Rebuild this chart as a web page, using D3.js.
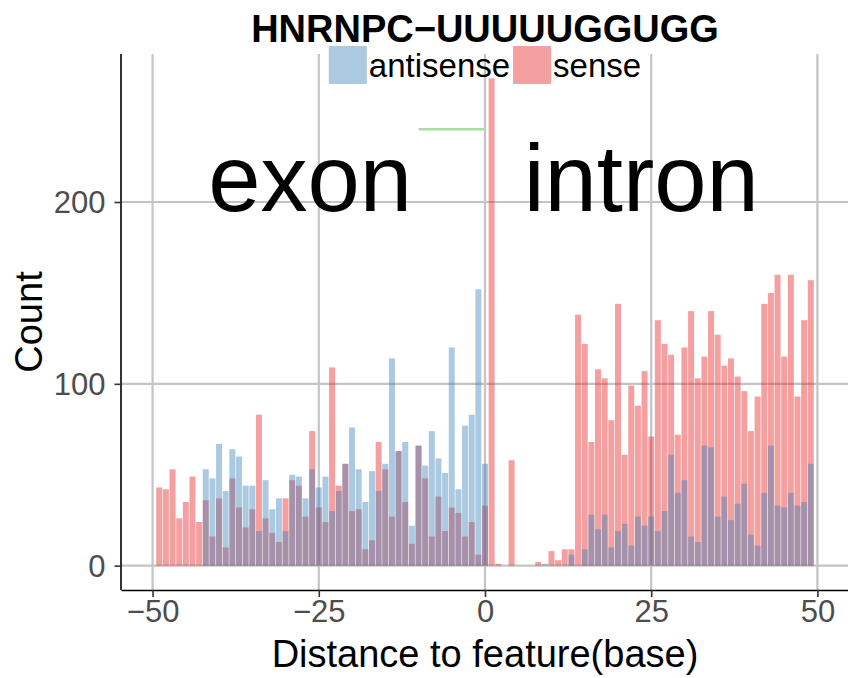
<!DOCTYPE html>
<html><head><meta charset="utf-8">
<script src="https://cdn.jsdelivr.net/npm/d3@7"></script>
<style>
html,body{margin:0;padding:0;background:#fff;overflow:hidden}
svg{display:block;font-family:"Liberation Sans",Arial,Helvetica,sans-serif}
</style>
</head><body>
<svg id="chart" width="848" height="678"></svg>
<script>
// ---------------- data ----------------
const chartTitle = "HNRNPC\u2212UUUUUGGUGG";
const positions = d3.range(-49, 50); // bar categories (distance, base)
const antisense = [
  0, 0, 0, 0, 0, 0, 0, 53, 48, 67,          // -49..-40
  41, 64, 60, 44, 44, 19, 47, 31, 37, 19,   // -39..-30
  50, 49, 37, 53, 43, 49, 30, 41, 56, 76,   // -29..-20
  53, 35, 52, 41, 56, 114, 63, 68, 22, 66,  // -19..-10
  55, 74, 59, 51, 120, 42, 77, 83, 152, 56, // -9..0
  0, 0, 0, 0, 0, 0, 0, 0, 1, 0,             // 1..10
  0, 0, 6, 0, 9, 28, 20, 28, 10, 19,        // 11..20
  23, 11, 27, 22, 27, 19, 30, 61, 40, 47,   // 21..30
  16, 13, 66, 65, 27, 38, 25, 34, 45, 17,   // 31..40
  11, 40, 66, 33, 32, 40, 33, 35, 56        // 41..49
];
const sense = [
  43, 42, 53, 26, 35, 49, 24, 36, 16, 37,   // -49..-40
  10, 48, 32, 21, 31, 83, 26, 18, 13, 37,   // -39..-30
  47, 44, 27, 74, 32, 24, 109, 44, 56, 30,  // -29..-20
  31, 9, 14, 68, 53, 27, 63, 35, 12, 66,    // -19..-10
  48, 16, 38, 19, 32, 29, 16, 24, 6, 33,    // -9..0
  268, 1, 0, 58, 0, 0, 0, 2, 0, 8,          // 1..10
  3, 9, 9, 138, 122, 68, 108, 103, 80, 144, // 11..20
  61, 99, 88, 107, 71, 135, 122, 116, 72, 120, // 21..30
  140, 103, 115, 140, 127, 110, 114, 104, 96, 74, // 31..40
  93, 144, 150, 160, 115, 160, 93, 135, 157 // 41..49
];
const seriesNames = ["antisense", "sense"];
const seriesColors = ["#377EB8", "#E41A1C"];
const xTicks = [-50, -25, 0, 25, 50];
const yTicks = [0, 100, 200];
const regionLabels = ["exon", "intron"];
const regionLabelX = [-26.3, 23.5];
const regionLabelY = [195, 195];
const segmentX = [-10, 0];
const segmentY = [240, 240];
const xTitle = "Distance to feature(base)";
const yTitle = "Count";

// ---------------- layout ----------------
const svg = d3.select("#chart");
const panel = {left: 121, right: 849, top: 54, bottom: 590};
const alpha = 0.42;
const fontAxisText = 31, fontAxisTitle = 38, fontTitle = 38, fontLegend = 33, fontRegion = 94;

const x = d3.scaleLinear().domain([-54.75, 54.75]).range([panel.left, panel.right]);
const yMax = d3.max(sense.concat(antisense));
const yPad = yMax * 0.05;
const y = d3.scaleLinear().domain([-yPad, yMax + yPad]).range([panel.bottom, panel.top]);
const barW = 0.9;

const clip = svg.append("defs").append("clipPath").attr("id", "pc")
  .append("rect").attr("x", panel.left).attr("y", panel.top)
  .attr("width", panel.right - panel.left).attr("height", panel.bottom - panel.top);

const gPanel = svg.append("g").attr("clip-path", "url(#pc)");

// grid
gPanel.append("g").selectAll("line.gx").data(xTicks).join("line")
  .attr("x1", d => x(d)).attr("x2", d => x(d))
  .attr("y1", panel.top).attr("y2", panel.bottom)
  .attr("stroke", "#c4c4c4").attr("stroke-width", 2.2);
gPanel.append("g").selectAll("line.gy").data(yTicks).join("line")
  .attr("y1", d => y(d)).attr("y2", d => y(d))
  .attr("x1", panel.left).attr("x2", panel.right)
  .attr("stroke", "#c4c4c4").attr("stroke-width", 2.2);

// bars: sense first, antisense over it
const drawSeries = (vals, color) => {
  gPanel.append("g").selectAll("rect").data(positions.map((p, i) => ({p, v: vals[i]})).filter(d => d.v > 0))
    .join("rect")
    .attr("x", d => x(d.p - barW / 2))
    .attr("width", x(barW) - x(0))
    .attr("y", d => y(d.v))
    .attr("height", d => y(0) - y(d.v))
    .attr("fill", color).attr("fill-opacity", alpha);
};
drawSeries(sense, seriesColors[1]);
drawSeries(antisense, seriesColors[0]);

// green segment
gPanel.append("line")
  .attr("x1", x(segmentX[0])).attr("x2", x(segmentX[1]))
  .attr("y1", y(segmentY[0])).attr("y2", y(segmentY[1]))
  .attr("stroke", "#a8dca0").attr("stroke-width", 2.6);

// region labels
svg.append("g").selectAll("text").data(regionLabels).join("text")
  .attr("x", (d, i) => x(regionLabelX[i])).attr("y", (d, i) => y(regionLabelY[i]))
  .attr("text-anchor", "middle").attr("font-size", fontRegion).attr("fill", "#000")
  .text(d => d);

// axes
const fmt = d => d < 0 ? "\u2212" + Math.abs(d) : String(d);
const xAxis = svg.append("g").attr("transform", `translate(0,${panel.bottom})`)
  .call(d3.axisBottom(x).tickValues(xTicks).tickFormat(fmt).tickSize(7).tickSizeOuter(0).tickPadding(3));
xAxis.select(".domain").attr("stroke", "#000").attr("stroke-width", 1.6);
xAxis.selectAll(".tick line").attr("stroke", "#333").attr("stroke-width", 1.6);
xAxis.selectAll(".tick text").attr("font-size", fontAxisText).attr("fill", "#4d4d4d")
  .attr("font-family", "Liberation Sans, Arial, sans-serif");

const yAxis = svg.append("g").attr("transform", `translate(${panel.left},0)`)
  .call(d3.axisLeft(y).tickValues(yTicks).tickFormat(fmt).tickSize(6.5).tickSizeOuter(0).tickPadding(9));
yAxis.select(".domain").attr("stroke", "#000").attr("stroke-width", 1.6)
  .attr("d", `M0,${panel.top}V${panel.bottom}`);
yAxis.selectAll(".tick line").attr("stroke", "#333").attr("stroke-width", 1.6);
yAxis.selectAll(".tick text").attr("font-size", fontAxisText).attr("fill", "#4d4d4d")
  .attr("dy", "0.35em").attr("font-family", "Liberation Sans, Arial, sans-serif");

// titles
svg.append("text").attr("x", (panel.left + panel.right) / 2).attr("y", 667)
  .attr("text-anchor", "middle").attr("font-size", fontAxisTitle).attr("fill", "#000").text(xTitle);
svg.append("text").attr("transform", `translate(42,${(panel.top + panel.bottom) / 2}) rotate(-90)`)
  .attr("text-anchor", "middle").attr("font-size", fontAxisTitle).attr("fill", "#000").text(yTitle);
svg.append("text").attr("x", (panel.left + panel.right) / 2).attr("y", 42)
  .attr("text-anchor", "middle").attr("font-size", fontTitle).attr("font-weight", "bold")
  .attr("fill", "#000").text(chartTitle);

// legend (centered)
const keySize = 38, keyGap = 2, itemGap = 3;
const leg = svg.append("g");
const order = [0, 1];
let cx = 0;
order.forEach(i => {
  const it = leg.append("g").attr("transform", `translate(${cx},0)`);
  it.append("rect").attr("x", 0).attr("y", 46).attr("width", keySize).attr("height", keySize)
    .attr("fill", seriesColors[i]).attr("fill-opacity", alpha);
  const t = it.append("text").attr("x", keySize + keyGap).attr("y", 77)
    .attr("font-size", fontLegend).attr("fill", "#000").text(seriesNames[i]);
  cx += keySize + keyGap + t.node().getComputedTextLength() + itemGap;
});
const legW = cx - itemGap;
leg.attr("transform", `translate(${(panel.left + panel.right) / 2 - legW / 2},0)`);
</script>
</body></html>
